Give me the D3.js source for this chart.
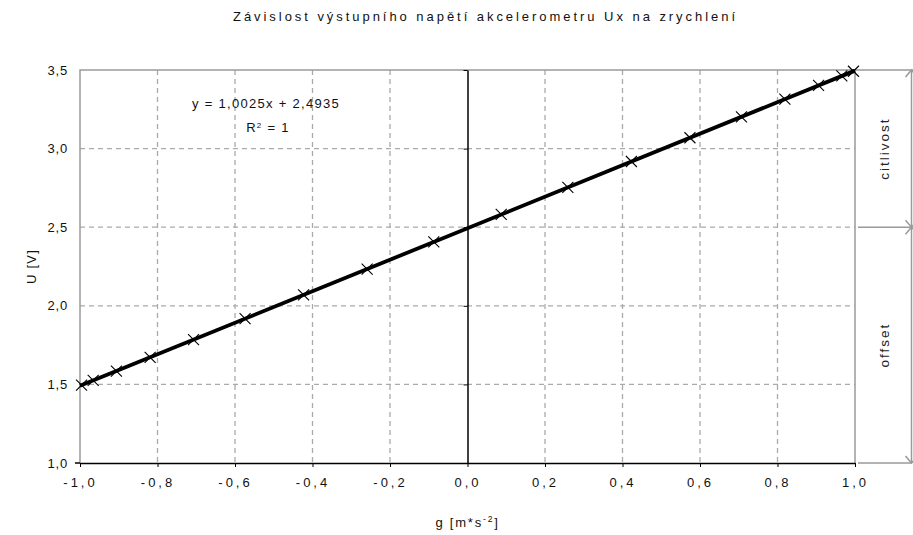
<!DOCTYPE html>
<html>
<head>
<meta charset="utf-8">
<script src="https://cdn.jsdelivr.net/npm/d3@7/dist/d3.min.js"></script>
<style>
  html, body { margin: 0; padding: 0; background: #fff; }
  svg { display: block; font-family: "Liberation Sans", Arial, sans-serif; }
</style>
</head>
<body>
<svg id="chart" width="913" height="535"></svg>
<script>
// Measured acceleration (g) and accelerometer output voltage Ux (V)
const accel = [-0.996, -0.966, -0.906, -0.819, -0.707, -0.574, -0.423, -0.259, -0.087,
                0.087,  0.259,  0.423,  0.574,  0.707,  0.819,  0.906,  0.966,  0.996];
const voltage = [1.495, 1.525, 1.585, 1.672, 1.785, 1.918, 2.069, 2.234, 2.406,
                 2.581, 2.753, 2.918, 3.069, 3.202, 3.315, 3.402, 3.462, 3.492];

// Linear trendline coefficients
const slope = 1.0025;
const intercept = 2.4935;

const xTicks = [-1.0, -0.8, -0.6, -0.4, -0.2, 0.0, 0.2, 0.4, 0.6, 0.8, 1.0];
const yTicks = [1.0, 1.5, 2.0, 2.5, 3.0, 3.5];

const titleText = "Závislost výstupního napětí akcelerometru Ux na zrychlení";
const yAxisTitle = "U [V]";
const bracketLabels = ["citlivost", "offset"];

const svg = d3.select("#chart");
const x = d3.scaleLinear().domain([-1, 1]).range([80, 855]);
const y = d3.scaleLinear().domain([1, 3.5]).range([463, 70]);
const fmt = v => v.toFixed(1).replace(".", ",");

const grey = "#9a9a9a";

// dashed gridlines
svg.append("g").selectAll("line.vg")
  .data(xTicks.filter(t => Math.abs(t) > 1e-9 && Math.abs(t) < 0.999))
  .join("line")
  .attr("x1", d => x(d)).attr("x2", d => x(d))
  .attr("y1", y(3.5)).attr("y2", y(1))
  .attr("stroke", "#aaaaaa").attr("stroke-width", 1.3)
  .attr("stroke-dasharray", "5,4");
svg.append("g").selectAll("line.hg")
  .data(yTicks.filter(t => t > 1 && t < 3.5))
  .join("line")
  .attr("x1", x(-1)).attr("x2", x(1))
  .attr("y1", d => y(d)).attr("y2", d => y(d))
  .attr("stroke", "#aaaaaa").attr("stroke-width", 1.3)
  .attr("stroke-dasharray", "5,4");

// plot border (left, top, right)
svg.append("path")
  .attr("d", `M${x(-1)},${y(1)}V${y(3.5)}H913M${x(1)},${y(3.5)}V${y(1)}`)
  .attr("fill", "none").attr("stroke", grey).attr("stroke-width", 1.5);

// bracket on the right: offset and sensitivity
const bx = 911.5;
svg.append("path")
  .attr("d", `M${x(1) + 3},${y(2.5)}H${bx}M${x(1) + 3},${y(1)}H${bx}M${bx},${y(3.5)}V${y(1)}`)
  .attr("fill", "none").attr("stroke", grey).attr("stroke-width", 1.5);
const arrowPts = [[y(3.5), -1], [y(2.5), 1], [y(2.5), -1], [y(1), 1]];
svg.append("g").selectAll("path")
  .data(arrowPts)
  .join("path")
  .attr("d", d => `M${bx - 6},${d[0] - d[1] * 7}L${bx},${d[0]}L${bx + 6},${d[0] - d[1] * 7}`)
  .attr("fill", "none").attr("stroke", grey).attr("stroke-width", 1.5);
svg.append("g").selectAll("text")
  .data([[bracketLabels[0], (y(3.5) + y(2.5)) / 2], [bracketLabels[1], (y(2.5) + y(1)) / 2]])
  .join("text")
  .attr("transform", d => `translate(889,${d[1]}) rotate(-90)`)
  .attr("text-anchor", "middle")
  .attr("font-size", 13.5)
  .attr("letter-spacing", 2)
  .attr("fill", "#222")
  .text(d => d[0]);

// x axis at U = 1.0
const xAxis = svg.append("g")
  .attr("transform", `translate(0,${y(1)})`)
  .call(d3.axisBottom(x).tickValues(xTicks).tickFormat(fmt).tickSize(4).tickSizeOuter(0));
xAxis.select(".domain").attr("stroke", "#000").attr("stroke-width", 1.5);
xAxis.selectAll(".tick line").attr("stroke", "#000");
xAxis.selectAll(".tick text")
  .attr("y", 15).attr("font-size", 13).attr("letter-spacing", 3)
  .attr("font-family", "Liberation Sans, Arial, sans-serif").attr("fill", "#111");

// y axis crossing at g = 0, labels on the left
const yAxis = svg.append("g")
  .attr("transform", `translate(${x(0)},0)`)
  .call(d3.axisLeft(y).tickValues(yTicks).tickFormat("").tickSize(4).tickSizeOuter(0));
yAxis.select(".domain").attr("stroke", "#000").attr("stroke-width", 1.5);
yAxis.selectAll(".tick line").attr("stroke", "#000");

svg.append("line")
  .attr("x1", x(-1) - 5).attr("x2", x(-1))
  .attr("y1", y(1)).attr("y2", y(1))
  .attr("stroke", "#000").attr("stroke-width", 1.5);

svg.append("g").selectAll("text")
  .data(yTicks)
  .join("text")
  .attr("x", 68).attr("y", d => y(d) + 4.5)
  .attr("text-anchor", "end")
  .attr("font-size", 13)
  .attr("letter-spacing", 0.8)
  .attr("fill", "#111")
  .text(fmt);

// trendline from the fitted equation
const trend = d3.line().x(d => x(d)).y(d => y(slope * d + intercept));
svg.append("path")
  .datum([-1, 1])
  .attr("d", trend)
  .attr("fill", "none").attr("stroke", "#000").attr("stroke-width", 3.8);

// measured points as crosses
const s = 5.5;
svg.append("g").selectAll("path")
  .data(accel.map((a, i) => [a, voltage[i]]))
  .join("path")
  .attr("d", d => {
    const cx = x(d[0]), cy = y(d[1]);
    return `M${cx - s},${cy - s}L${cx + s},${cy + s}M${cx - s},${cy + s}L${cx + s},${cy - s}`;
  })
  .attr("stroke", "#000").attr("stroke-width", 1.1).attr("fill", "none");

// equation and R²
svg.append("text")
  .attr("x", 266).attr("y", 108)
  .attr("text-anchor", "middle").attr("font-size", 13).attr("letter-spacing", 1.3)
  .attr("fill", "#111")
  .text(`y = ${slope.toFixed(4).replace(".", ",")}x + ${intercept.toFixed(4).replace(".", ",")}`);
const r2 = svg.append("text")
  .attr("x", 268).attr("y", 132)
  .attr("text-anchor", "middle").attr("font-size", 13).attr("letter-spacing", 1.3)
  .attr("fill", "#111");
r2.append("tspan").text("R");
r2.append("tspan").attr("dy", -4).attr("font-size", 8).text("2");
r2.append("tspan").attr("dy", 4).text(" = 1");

// titles
svg.append("text")
  .attr("x", 484).attr("y", 21)
  .attr("text-anchor", "middle").attr("font-size", 13)
  .attr("textLength", 502).attr("lengthAdjust", "spacing")
  .attr("fill", "#111")
  .text(titleText);

svg.append("text")
  .attr("transform", `translate(36,${(y(1) + y(3.5)) / 2}) rotate(-90)`)
  .attr("text-anchor", "middle").attr("font-size", 13).attr("letter-spacing", 1.2)
  .attr("fill", "#111")
  .text(yAxisTitle);

const xt = svg.append("text")
  .attr("x", x(0)).attr("y", 527)
  .attr("text-anchor", "middle").attr("font-size", 13).attr("letter-spacing", 1.8)
  .attr("fill", "#111");
xt.append("tspan").text("g [m*s");
xt.append("tspan").attr("dy", -5).attr("font-size", 8.5).text("-2");
xt.append("tspan").attr("dy", 5).text("]");
</script>
</body>
</html>
